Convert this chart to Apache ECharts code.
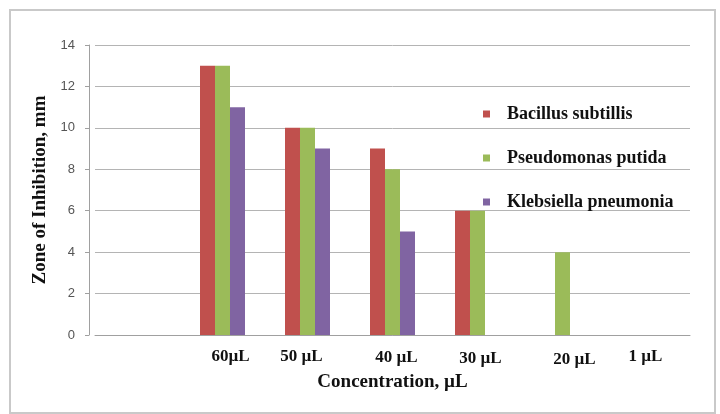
<!DOCTYPE html>
<html>
<head>
<meta charset="utf-8">
<style>
  html, body { margin: 0; padding: 0; background: #ffffff; }
  #chart { width: 720px; height: 414px; }
</style>
<script src="https://cdn.jsdelivr.net/npm/echarts@6/dist/echarts.min.js"></script>
</head>
<body>
<div id="chart"></div>
<script>
// Concentration groups (first slot left empty on the axis)
const categories = ['', '60\u00b5L', '50 \u00b5L', '40 \u00b5L', '30 \u00b5L', '20 \u00b5L', '1 \u00b5L'];

// Zone of inhibition, mm
const bacillus    = [null, 13, 10, 9, 6, 0, 0];
const pseudomonas = [null, 13, 10, 8, 6, 4, 0];
const klebsiella  = [null, 11, 9, 5, 0, 0, 0];

const seriesNames = ['Bacillus subtillis', 'Pseudomonas putida', 'Klebsiella pneumonia'];
const yTicks = [0, 2, 4, 6, 8, 10, 12, 14];

// Hand-placed label nudges (px, horizontal / vertical)
const labelNudgeX = [0, 8, -6, 4, 3, 12, -2];
const labelNudgeY = [0, -1, 0, 1, 2, 3, 0];

const colors = ['#C0504D', '#9BBB59', '#8064A2'];
const serif = '"Liberation Serif", "Times New Roman", serif';

const rich = {};
categories.forEach((c, i) => {
  const dx = labelNudgeX[i], dy = labelNudgeY[i];
  rich['l' + i] = {
    fontFamily: serif, fontWeight: 'bold', fontSize: 17, color: '#111',
    padding: [Math.max(dy, 0), Math.max(-dx, 0) * 2, Math.max(-dy, 0), Math.max(dx, 0) * 2]
  };
});

const chart = echarts.init(document.getElementById('chart'), null, { renderer: 'canvas' });

const seriesData = [bacillus, pseudomonas, klebsiella];

chart.setOption({
  animation: false,
  backgroundColor: '#ffffff',
  graphic: [{
    type: 'rect',
    shape: { x: 10, y: 10, width: 705, height: 403 },
    style: { fill: 'none', stroke: '#c9c9c9', lineWidth: 2 },
    silent: true
  }],
  grid: { left: 95, right: 30, top: 45, bottom: 79 },
  legend: {
    orient: 'vertical',
    left: 478,
    top: 100,
    itemWidth: 7,
    itemHeight: 7,
    itemGap: 26,
    icon: 'rect',
    data: seriesNames,
    textStyle: {
      fontFamily: serif, fontWeight: 'bold', fontSize: 18, color: '#111',
      padding: [0, 0, 0, 12]
    }
  },
  xAxis: {
    type: 'category',
    data: categories,
    name: 'Concentration, \u00b5L',
    nameLocation: 'middle',
    nameGap: 36,
    nameTextStyle: { fontFamily: serif, fontWeight: 'bold', fontSize: 19, color: '#111' },
    axisLine: { lineStyle: { color: '#a0a0a0', width: 1 } },
    axisTick: { show: false },
    axisLabel: {
      margin: 13,
      formatter: (v) => {
        const i = categories.indexOf(v);
        return v === '' ? '' : '{l' + i + '|' + v + '}';
      },
      rich: rich
    }
  },
  yAxis: {
    type: 'value',
    min: yTicks[0],
    max: yTicks[yTicks.length - 1],
    interval: 2,
    offset: 6,
    name: 'Zone of Inhibition, mm',
    nameLocation: 'middle',
    nameRotate: 90,
    nameGap: 35,
    nameTextStyle: { fontFamily: serif, fontWeight: 'bold', fontSize: 19, color: '#111' },
    axisLine: { show: true, lineStyle: { color: '#a0a0a0', width: 1 } },
    axisTick: { show: true, length: 4, lineStyle: { color: '#a0a0a0' } },
    axisLabel: {
      margin: 14,
      fontFamily: '"Liberation Sans", Arial, sans-serif',
      fontSize: 13,
      color: '#555'
    },
    splitLine: { lineStyle: { color: '#b4b4b4', width: 1 } }
  },
  series: seriesNames.map((name, k) => ({
    name: name,
    type: 'bar',
    data: seriesData[k],
    barWidth: 15,
    barGap: '0%',
    itemStyle: { color: colors[k] }
  }))
});
</script>
</body>
</html>
